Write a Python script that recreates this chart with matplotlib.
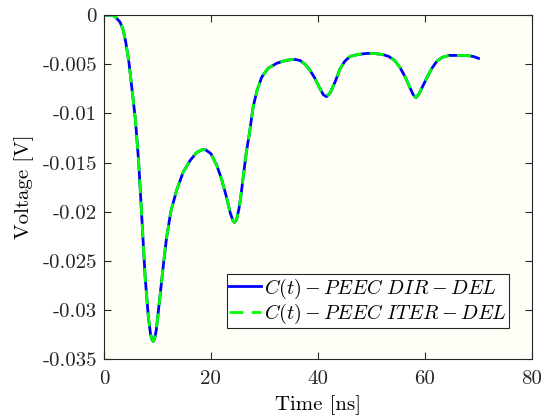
import matplotlib
matplotlib.use("Agg")
from matplotlib import pyplot as plt

# DATA -----------------------------------------------------------------------------------------------------
time_ns = [0, 1, 2, 3, 3.6, 4.1, 4.7, 5.3, 5.9, 6.5, 7.0, 7.7, 8.3, 8.7, 8.95, 9.2, 9.45, 9.8, 10.2,
           10.6, 11.2, 11.7, 12.5, 13.6, 14.8, 16.1, 17.3, 18.3, 19.0, 20.0, 21.1, 22.0, 22.9, 23.6,
           24.1, 24.4, 24.8, 25.2, 25.6, 26.0, 26.6, 27.2, 27.9, 28.6, 29.5, 30.7, 32.3, 34.0, 35.5,
           36.6, 37.6, 38.5, 39.4, 40.3, 41.0, 41.6, 42.3, 43.2, 44.1, 45.0, 46.0, 47.5, 49.0, 50.5,
           52.0, 53.2, 54.3, 55.3, 56.3, 57.2, 57.8, 58.3, 58.9, 59.7, 60.5, 61.3, 62.2, 63.2, 64.5,
           66.0, 67.5, 69.0, 70.0]
volt_dir = [0, 0, -0.0001, -0.0007, -0.0015, -0.0028, -0.0049, -0.0078, -0.0107, -0.0150, -0.0198,
            -0.0266, -0.0307, -0.0324, -0.0330, -0.0332, -0.0330, -0.0320, -0.0300, -0.0280,
            -0.0250, -0.0227, -0.0200, -0.0178, -0.0160, -0.0148, -0.0140, -0.0137, -0.0137,
            -0.0141, -0.0153, -0.0167, -0.0185, -0.0201, -0.0209, -0.0211, -0.0208, -0.0198,
            -0.0184, -0.0166, -0.0140, -0.0120, -0.0093, -0.0077, -0.0063, -0.0054, -0.0049,
            -0.0046, -0.0045, -0.0046, -0.0050, -0.0056, -0.0064, -0.0074, -0.0081, -0.0083,
            -0.0079, -0.0068, -0.0055, -0.0047, -0.0042, -0.0040, -0.0039, -0.0039, -0.0040,
            -0.0042, -0.0046, -0.0053, -0.0063, -0.0074, -0.0081, -0.0084, -0.0080, -0.0071,
            -0.0062, -0.0054, -0.0047, -0.0043, -0.0041, -0.0041, -0.0041, -0.0042, -0.0044]
volt_iter = list(volt_dir)  # the iterative solution overlaps the direct one

xticks = [0, 20, 40, 60, 80]
yticks = [0, -0.005, -0.01, -0.015, -0.02, -0.025, -0.03, -0.035]
ytick_labels = ["0", "-0.005", "-0.01", "-0.015", "-0.02", "-0.025", "-0.03", "-0.035"]

# PLOT --------------------------------------------------------------------------------------------------------
plt.rcParams['font.family'] = ['cmr10', 'DejaVu Serif']
plt.rcParams['mathtext.fontset'] = 'cm'

fig = plt.figure(figsize=(5.44, 4.2), dpi=100)
ax = fig.add_axes([0.191, 0.145, 0.787, 0.819])
ax.set_facecolor('#fffff7')

ax.plot(time_ns, volt_dir, color='#0000ff', lw=2.0, label=r'$C(t) - PEEC\ DIR - DEL$')
ax.plot(time_ns, volt_iter, color='#00ff00', lw=2.0, dashes=(5, 3),
        label=r'$C(t) - PEEC\ ITER - DEL$')

ax.set_xlim(0, 80)
ax.set_ylim(-0.035, 0)
ax.set_xticks(xticks)
ax.set_yticks(yticks)
ax.set_yticklabels(ytick_labels)
ax.tick_params(direction='in', top=True, right=True, labelsize=15, length=5, colors='#262626')
ax.tick_params(axis='x', pad=8)
ax.tick_params(axis='y', pad=5)
for s in ax.spines.values():
    s.set_color('#262626')
    s.set_linewidth(0.8)

ax.set_xlabel('Time [ns]', fontsize=15, labelpad=5)
ax.set_ylabel('Voltage [V]', fontsize=15, labelpad=6)

leg = ax.legend(loc='lower right', bbox_to_anchor=(0.946, 0.09), borderaxespad=0, fontsize=14.5,
                handlelength=1.55, handletextpad=0.15, borderpad=0.12, labelspacing=0.05,
                fancybox=False, framealpha=1)
leg.get_frame().set_edgecolor('#262626')
leg.get_frame().set_linewidth(0.8)

fig.savefig('out.png', dpi=100, facecolor='white')
